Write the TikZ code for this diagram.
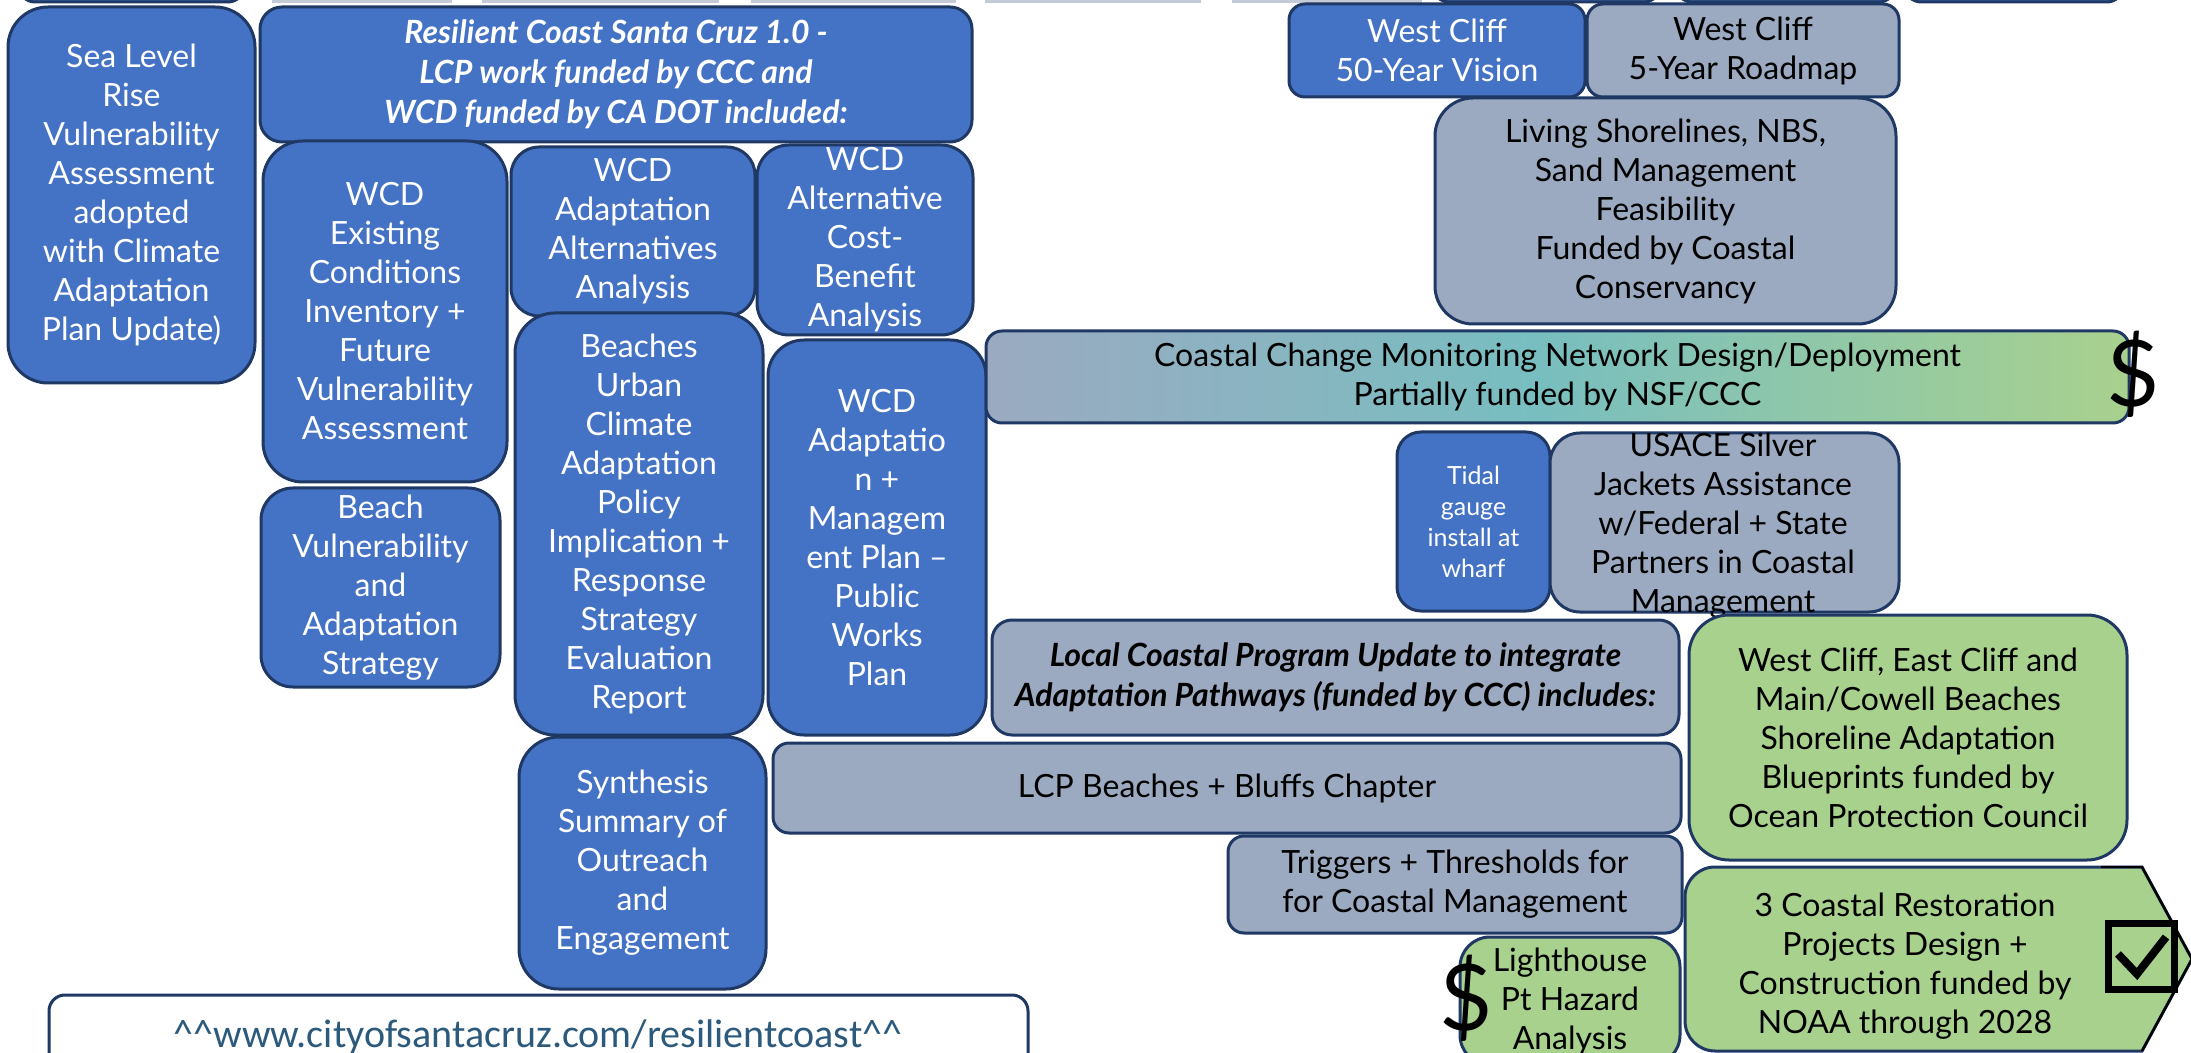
\documentclass[tikz,border=0pt]{standalone}
\usepackage{fontspec}
\setmainfont{Lato}
\newfontfamily\urlfont{Carlito}
\usetikzlibrary{fit}

\definecolor{navy}{RGB}{31,56,100}
\definecolor{cblue}{RGB}{68,114,196}
\definecolor{cgray}{RGB}{155,170,193}
\definecolor{cgreen}{RGB}{169,209,142}
\definecolor{cteal}{RGB}{120,190,192}
\definecolor{urltext}{RGB}{44,90,125}
\definecolor{sliver}{RGB}{196,203,214}

% gray-blue -> teal -> green, left to right
\pgfdeclarehorizontalshading{ccmshade}{100bp}{%
  color(0bp)=(cgray); color(25bp)=(cgray); color(49bp)=(cteal);
  color(75bp)=(cgreen); color(100bp)=(cgreen)}

\tikzset{
  base/.style={draw=navy, line width=1.5pt, inner sep=0pt},
  bluebox/.style={base, fill=cblue},
  graybox/.style={base, fill=cgray},
  greenbox/.style={base, fill=cgreen},
  lbl/.style={align=center, inner sep=0pt, font=\fontsize{16}{19.5}\selectfont},
  wt/.style={lbl, text=white},
  bt/.style={lbl, text=black},
  boldital/.style={font=\fontsize{16}{20}\selectfont\bfseries\itshape},
  dollar/.style={inner sep=0pt, font=\fontsize{46}{46}\selectfont},
}

\begin{document}
\begin{tikzpicture}[x=0.5pt,y=-0.5pt]
\path[use as bounding box, clip] (0,0) rectangle (2191,1053);
\fill[white] (0,0) rectangle (2191,1053);

% bottoms of the row above
\foreach \a/\b in {19/244,1433/1660,1676/1895,1905/2123}
  \draw[navy, line width=1.5pt, fill=cblue, rounded corners=8pt] (\a,-60) rectangle (\b,2);
\foreach \a/\b in {272/452,482/719,751/956,985/1201,1232/1422}
  \fill[sliver] (\a,-5) rectangle (\b,3);

% left column: Resilient Coast 1.0
\node[bluebox, rounded corners=20pt, fit={(8,7) (255,383)}] (slr) {};
\node[wt] (slrt) at (slr.center)
  {Sea Level\\Rise\\Vulnerability\\Assessment\\adopted\\with Climate\\Adaptation\\Plan Update)};
\node[bluebox, rounded corners=11pt, fit={(260,7) (972,142)}] (rc) {};
\node[wt, boldital] (rct) at (rc.center)
  {Resilient Coast Santa Cruz 1.0 -\\LCP work funded by CCC and\\WCD funded by CA DOT included:};
\node[bluebox, rounded corners=20pt, fit={(263,141) (507,482)}] (exist) {};
\node[wt] (existt) at (exist.center)
  {WCD\\Existing\\Conditions\\Inventory +\\Future\\Vulnerability\\Assessment};
\node[bluebox, rounded corners=14pt, fit={(511,147) (755,316)}] (alts) {};
\node[wt] (altst) at (alts.center)
  {WCD\\Adaptation\\Alternatives\\Analysis};
\node[bluebox, rounded corners=16pt, fit={(757,145) (973,335)}] (cba) {};
\node[wt] (cbat) at (cba.center)
  {WCD\\Alternative\\Cost-\\Benefit\\Analysis};
\node[bluebox, rounded corners=20pt, fit={(515,313) (763,735)}] (urban) {};
\node[wt] (urbant) at (urban.center)
  {Beaches\\Urban\\Climate\\Adaptation\\Policy\\Implication +\\Response\\Strategy\\Evaluation\\Report};
\node[bluebox, rounded corners=18pt, fit={(768,340) (986,735)}] (mgmt) {};
\node[wt] (mgmtt) at (mgmt.center)
  {WCD\\Adaptatio\\n +\\Managem\\ent Plan --\\Public\\Works\\Plan};
\node[bluebox, rounded corners=16pt, fit={(261,488) (500,687)}] (bvas) {};
\node[wt] (bvast) at (bvas.center)
  {Beach\\Vulnerability\\and\\Adaptation\\Strategy};
\node[bluebox, rounded corners=20pt, fit={(519,737) (766,989)}] (synth) {};
\node[wt] (syntht) at (synth.center)
  {Synthesis\\Summary of\\Outreach\\and\\Engagement};

% web link
\node[draw=navy, line width=1.5pt, fill=white, rounded corners=8pt, inner sep=0pt,
  fit={(49,995) (1028,1110)}] (url) {};
\node[anchor=base, inner sep=0pt, text=urltext, font=\urlfont\fontsize{20}{22}\selectfont]
  (urltxt) at (538,1047)
  {\textasciicircum\textasciicircum www.cityofsantacruz.com/resilientcoast\textasciicircum\textasciicircum};

% West Cliff and coastal programme
\node[bluebox, rounded corners=8pt, fit={(1289,4) (1585,97)}] (wc50) {};
\node[wt] (wc50t) at (wc50.center) {West Cliff\\50-Year Vision};
\node[graybox, rounded corners=8pt, fit={(1587,4) (1899,97)}] (wc5) {};
\node[bt] (wc5t) at (wc5.center) {West Cliff\\5-Year Roadmap};
\node[graybox, rounded corners=19pt, fit={(1435,98) (1896,324)}] (living) {};
\node[bt] (livingt) at (living.center)
  {Living Shorelines, NBS,\\Sand Management\\Feasibility\\Funded by Coastal\\Conservancy};
\node[base, rounded corners=8pt, shading=ccmshade, fit={(986,331) (2129,423)}] (ccm) {};
\node[bt] (ccmt) at (ccm.center)
  {Coastal Change Monitoring Network Design/Deployment\\Partially funded by NSF/CCC};
\node[dollar] (d1) at (2133,374) {\$};

\node[bluebox, rounded corners=12pt, fit={(1397,432) (1550,611)}] (tidal) {};
\node[wt, font=\fontsize{12.5}{15.5}\selectfont] (tidalt) at (tidal.center)
  {Tidal\\gauge\\install at\\wharf};
\node[graybox, rounded corners=15pt, fit={(1550,433) (1899,612)}] (usace) {};
\node[bt] (usacet) at (1723,526)
  {USACE Silver\\Jackets Assistance\\w/Federal + State\\Partners in Coastal\\Management};

\node[graybox, rounded corners=10pt, fit={(992,620) (1679,735)}] (lcpu) {};
\node[bt, boldital] (lcput) at (lcpu.center)
  {Local Coastal Program Update to integrate\\Adaptation Pathways (funded by CCC) includes:};
\node[greenbox, rounded corners=20pt, fit={(1689,615) (2127,860)}] (wcec) {};
\node[bt] (wcect) at (wcec.center)
  {West Cliff, East Cliff and\\Main/Cowell Beaches\\Shoreline Adaptation\\Blueprints funded by\\Ocean Protection Council};
\node[graybox, rounded corners=8pt, fit={(773,743) (1681,833)}] (lcpb) {};
\node[bt] (lcpbt) at (lcpb.center) {LCP Beaches + Bluffs Chapter};
\node[graybox, rounded corners=8pt, fit={(1228,836) (1682,933)}] (trig) {};
\node[bt] (trigt) at (trig.center) {Triggers + Thresholds for\\for Coastal Management};

% restoration projects (arrow-ended panel)
\draw[navy, line width=1.5pt, fill=cgreen]
  (2142,867) -- (2192,959) -- (2142,1051) -- (1800,1051)
  [rounded corners=15pt] -- (1685,1051) -- (1685,867) -- (1800,867)
  [sharp corners] -- cycle;
\draw[black, line width=1.2pt] (2101,867) -- (2142,867) -- (2192,959) -- (2142,1051);
\node[bt] (crp) at (1905,966)
  {3 Coastal Restoration\\Projects Design +\\Construction funded by\\NOAA through 2028};
\node[draw=black, line width=3.5pt, minimum width=33pt, minimum height=33pt, inner sep=0pt]
  (chk) at (2141.5,956) {};
\draw[black, line width=4pt, line join=miter] (2118,954) -- (2137,974) -- (2166,937);

\node[greenbox, rounded corners=15pt, fit={(1460,937) (1680,1065)}] (lh) {};
\node[bt] (lht) at (lh.center) {Lighthouse\\Pt Hazard\\Analysis};
\node[dollar] (d2) at (1466,998) {\$};
\end{tikzpicture}
\end{document}
